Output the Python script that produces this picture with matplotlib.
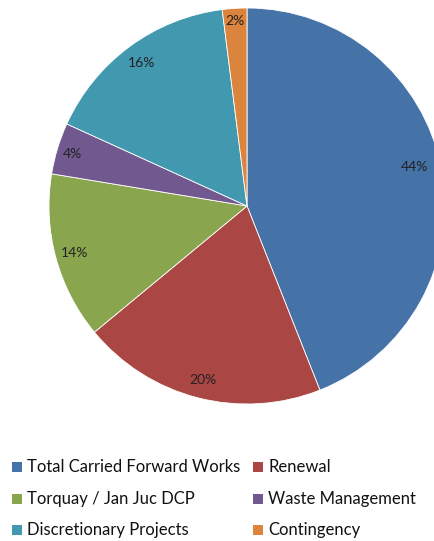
import numpy as np
import matplotlib
matplotlib.use("Agg")
import matplotlib.pyplot as plt
from matplotlib.patches import Rectangle

categories = ["Total Carried Forward Works", "Renewal", "Torquay / Jan Juc DCP",
              "Waste Management", "Discretionary Projects", "Contingency"]
shares = [44, 20, 13.6, 4.2, 16.2, 2]
colors = ["#4572A7", "#AA4643", "#89A54E", "#71588F", "#4198AF", "#DB843D"]

plt.rcParams["font.family"] = ["Lato", "DejaVu Sans"]

W, H = 434, 541
fig = plt.figure(figsize=(W / 100, H / 100), dpi=100)

# pie centre ~ (247, 206) px, radius ~198 px, runs off the right edge
cx, cy, r = 247, 206, 198
ax = fig.add_axes([(cx - r) / W, (H - cy - r) / H, 2 * r / W, 2 * r / H])

wedges, texts, autotexts = ax.pie(
    shares, colors=colors, startangle=90, counterclock=False, radius=1,
    autopct="%.0f%%", pctdistance=0.9,
    wedgeprops=dict(edgecolor="white", linewidth=0.6),
    textprops=dict(fontsize=10, color="#222222"))

# label distances / small angle nudges per slice
label_dist = [0.87, 0.9, 0.9, 0.92, 0.9, 0.94]
label_nudge = [2.5, 0, 0, 0, 0, 0]
for w, t, d, n in zip(wedges, autotexts, label_dist, label_nudge):
    ang = np.deg2rad((w.theta1 + w.theta2) / 2 + n)
    t.set_position((d * np.cos(ang), d * np.sin(ang)))
    t.set_va("center_baseline")

ax.set_xlim(-1, 1)
ax.set_ylim(-1, 1)
ax.set_aspect("equal")
ax.axis("off")

# legend, two columns
col_x = [12, 253]
row_y = [467, 499, 530]
for i, (lab, c) in enumerate(zip(categories, colors)):
    x = col_x[i % 2]
    y = row_y[i // 2]
    fig.patches.append(Rectangle((x / W, (H - y - 5) / H), 10 / W, 10 / H,
                                 transform=fig.transFigure, facecolor=c,
                                 edgecolor="none"))
    fig.text((x + 15) / W, (H - y) / H, lab, fontsize=12, va="center",
             ha="left", color="#111111")

fig.savefig("out.png", dpi=100)
